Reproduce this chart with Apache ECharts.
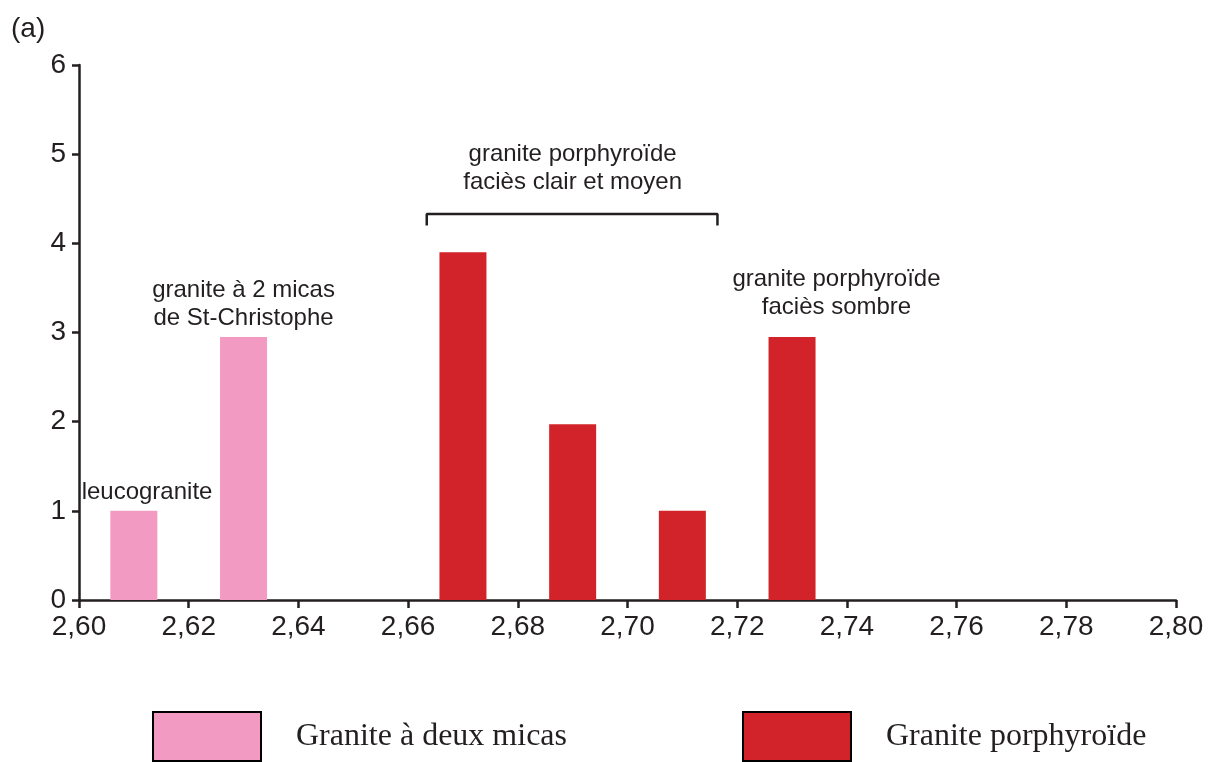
<!DOCTYPE html>
<html>
<head>
<meta charset="utf-8">
<title>Densité des granites</title>
<script src="https://cdn.jsdelivr.net/npm/echarts@6/dist/echarts.min.js"></script>
<style>
  html, body { margin: 0; padding: 0; background: #fff; }
  #chart { width: 1217px; height: 762px; }
</style>
</head>
<body>
<div id="chart"></div>
<script>
// Density classes (bin centres) and number of samples in each
const micaDensity = [2.61, 2.63];
const micaCount = [1, 2.95];
const porphDensity = [2.67, 2.69, 2.71, 2.73];
const porphCount = [3.9, 1.97, 1, 2.95];

// Axis range
const xMin = 2.60, xMax = 2.80, xStep = 0.02;
const yMin = 0, yMax = 6, yStep = 1;

// Series names
const micaName = 'Granite à deux micas';
const porphName = 'Granite porphyroïde';

// Group annotations
const groupLabels = [
  'leucogranite',
  'granite à 2 micas\nde St-Christophe',
  'granite porphyroïde\nfaciès clair et moyen',
  'granite porphyroïde\nfaciès sombre'
];

const INK = '#231f20';
const SANS = "'Liberation Sans', Arial, Helvetica, sans-serif";
const SERIF = "'Liberation Serif', 'Times New Roman', serif";

// Anchor of each annotation, in axis units
const labelAnchors = [[2.6124, 1.21], [2.630, 3.31], [2.690, 4.84], [2.7381, 3.44]];
// Bracket spanning the light/medium porphyritic facies
const bracketPath = [[2.6634, 4.20], [2.6634, 4.33], [2.7164, 4.33], [2.7164, 4.20]];

const chart = echarts.init(document.getElementById('chart'));

const legendCommon = {
  top: 711,
  padding: 0,
  icon: 'rect',
  itemWidth: 108,
  itemHeight: 49,
  itemStyle: { borderColor: '#000', borderWidth: 2 },
  textStyle: { fontFamily: SERIF, fontSize: 32, color: INK, padding: [5, 0, 0, 30] },
  selectedMode: false
};

chart.setOption({
  animation: false,
  backgroundColor: '#fff',
  title: {
    text: '(a)',
    left: 11,
    top: 15,
    padding: 0,
    textStyle: { fontFamily: SANS, fontSize: 28, fontWeight: 'normal', color: INK }
  },
  legend: [
    Object.assign({}, legendCommon, { left: 152, data: [micaName] }),
    Object.assign({}, legendCommon, { left: 742, data: [porphName] })
  ],
  grid: { left: 79, right: 41, top: 65, bottom: 162, containLabel: false },
  xAxis: {
    type: 'value',
    min: xMin, max: xMax, interval: xStep,
    axisLine: { lineStyle: { color: INK, width: 2.5 } },
    axisTick: { show: true, length: 8, lineStyle: { color: INK, width: 2.5 } },
    axisLabel: {
      margin: 13,
      fontFamily: SANS, fontSize: 28, color: INK,
      formatter: v => v.toFixed(2).replace('.', ',')
    },
    splitLine: { show: false }
  },
  yAxis: {
    type: 'value',
    min: yMin, max: yMax, interval: yStep,
    axisLine: { show: true, lineStyle: { color: INK, width: 2.5 } },
    axisTick: { show: true, length: 7, lineStyle: { color: INK, width: 2.5 } },
    axisLabel: { margin: 13, fontFamily: SANS, fontSize: 28, color: INK },
    splitLine: { show: false }
  },
  series: [
    {
      name: micaName,
      type: 'bar',
      barWidth: 47,
      barGap: '-100%',
      itemStyle: { color: '#f39ac3' },
      data: micaDensity.map((d, i) => [d, micaCount[i]])
    },
    {
      name: porphName,
      type: 'bar',
      barWidth: 47,
      barGap: '-100%',
      itemStyle: { color: '#d2232a' },
      data: porphDensity.map((d, i) => [d, porphCount[i]])
    },
    {
      name: 'bracket',
      type: 'line',
      symbol: 'none',
      silent: true,
      lineStyle: { color: INK, width: 2.5 },
      data: bracketPath
    },
    {
      name: 'annotations',
      type: 'scatter',
      symbolSize: 1,
      silent: true,
      itemStyle: { color: 'rgba(0,0,0,0)', opacity: 1 },
      label: {
        show: true,
        position: 'inside',
        formatter: '{b}',
        fontFamily: SANS,
        fontSize: 24,
        lineHeight: 28,
        color: INK,
        opacity: 1,
        align: 'center'
      },
      data: groupLabels.map((t, i) => ({ name: t, value: labelAnchors[i] }))
    }
  ]
});
</script>
</body>
</html>
